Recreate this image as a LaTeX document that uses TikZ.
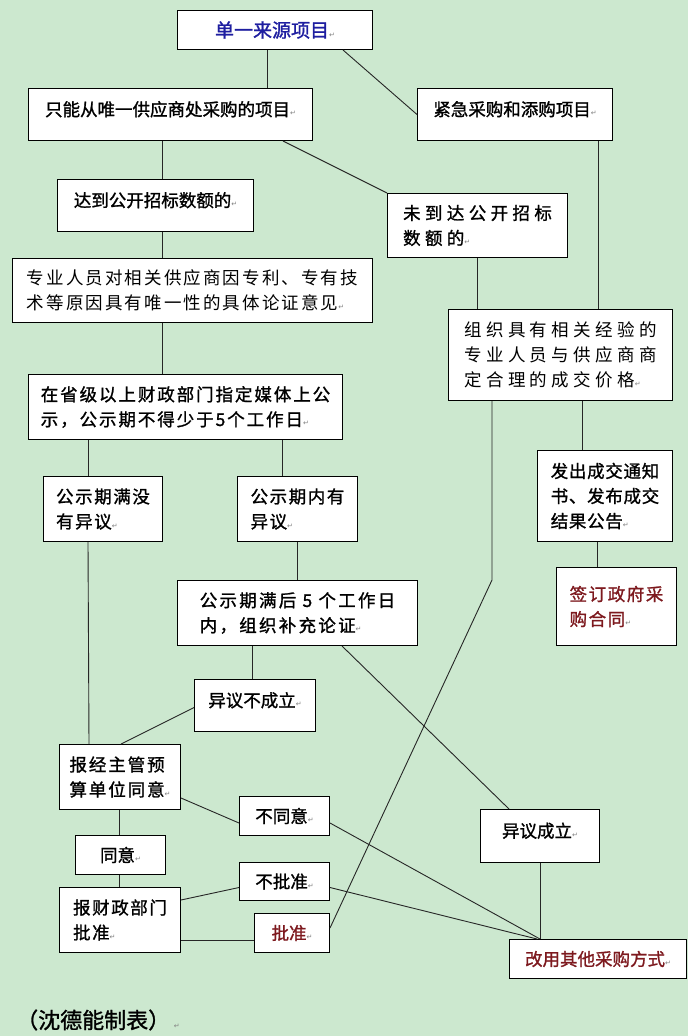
\documentclass[tikz,border=0pt]{standalone}
\usepackage{fontspec}
\setmainfont{Noto Sans CJK SC}
\newfontfamily\hb[FakeBold=1.2]{Noto Sans CJK SC}
\newfontfamily\symf{DejaVu Sans}
\usetikzlibrary{calc}
\definecolor{bgc}{RGB}{204,232,207}
\definecolor{tblue}{RGB}{30,30,160}
\definecolor{tred}{RGB}{125,25,30}
\newcommand\rmk{{\symf\fontsize{7}{7}\selectfont\color{gray}↵}}
\tikzset{
 box/.style={draw=black, line width=1pt, fill=white, inner sep=0pt, align=left, anchor=north west, font=\hb\fontsize{17.5}{25}\selectfont},
 sp/.style={font=\hb\fontsize{17.5}{25}\selectfont\addfontfeature{LetterSpace=#1}},
 spr/.style={font=\rmfamily\fontsize{17.5}{25}\selectfont\addfontfeature{LetterSpace=#1}},
 conn/.style={draw=black!85, line width=0.9pt},
}
\begin{document}
\begin{tikzpicture}[x=1pt,y=-1pt]
\fill[bgc] (0,0) rectangle (688,1036);
\useasboundingbox (0,0) rectangle (688,1036);

% boxes
\node[box, minimum width=195, minimum height=39, font=\hb\fontsize{19}{25}\selectfont, text=tblue, align=center] (A) at (177,10) {单一来源项目\rmk};
\node[box, minimum width=284, minimum height=52] (B) at (28,88) {只能从唯一供应商处采购的项目\rmk\\[-13pt]};
\node[box, minimum width=195, minimum height=52] (C) at (417,88) {紧急采购和添购项目\rmk\\[-13pt]};
\node[box, minimum width=196, minimum height=52] (D) at (57,179) {达到公开招标数额的\rmk\\[-13pt]};
\node[box, sp=25, minimum width=180, minimum height=64] (E) at (387,193) {未到达公开招标\\数额的\rmk};
\node[box, spr=12, minimum width=360, minimum height=64] (F) at (12,258) {专业人员对相关供应商因专利、专有技\\术等原因具有唯一性的具体论证意见\rmk};
\node[box, spr=25, minimum width=224, minimum height=91] (G) at (448,309) {组织具有相关经验的\\专业人员与供应商商\\定合理的成交价格\rmk};
\node[box, sp=11, minimum width=314, minimum height=65] (H) at (28,374) {在省级以上财政部门指定媒体上公\\示，公示期不得少于5个工作日\rmk};
\node[box, sp=4, minimum width=135, minimum height=91] (I) at (537,450) {发出成交通知\\书、发布成交\\结果公告\rmk};
\node[box, sp=9, minimum width=120, minimum height=78, text=tred] (J) at (556,567) {签订政府采\\购合同\rmk};
\node[box, sp=9, minimum width=119, minimum height=65] (K) at (43,476) {公示期满没\\有异议\rmk};
\node[box, sp=9, minimum width=120, minimum height=65] (L) at (237,476) {公示期内有\\异议\rmk};
\node[box, sp=13, minimum width=240, minimum height=65] (M) at (177,580) {公示期满后 5 个工作日\\内，组织补充论证\rmk};
\node[box, minimum width=121, minimum height=52] (N) at (194,679) {异议不成立\rmk\\[-13pt]};
\node[box, sp=11, minimum width=121, minimum height=65] (O) at (59,744) {报经主管预\\算单位同意\rmk};
\node[box, minimum width=90, minimum height=39] (P) at (239,796) {不同意\rmk};
\node[box, minimum width=119, minimum height=53] (Q) at (480,809) {异议成立\rmk\\[-13pt]};
\node[box, minimum width=90, minimum height=39] (R) at (75,835) {同意\rmk};
\node[box, sp=9, minimum width=121, minimum height=65] (S) at (59,887) {报财政部门\\批准\rmk};
\node[box, minimum width=90, minimum height=38] (T) at (239,862) {不批准\rmk};
\node[box, minimum width=75, minimum height=39, text=tred] (U) at (254,913) {批准\rmk};
\node[box, minimum width=177, minimum height=39, text=tred] (V) at (509,939) {改用其他采购方式\rmk};
\node[anchor=west, inner sep=0pt, font=\hb\fontsize{22}{22}\selectfont] (foot) at (16,1020) {（沈德能制表）\,\rmk};

\coordinate (gbend) at (492,580);

% connectors
\draw[conn] ($(A.south west)+(90,0)$) -- ($(B.north west)+(239,0)$);
\draw[conn] ($(A.south west)+(166,0)$) -- (C.west);
\draw[conn] ($(B.south west)+(255,0)$) -- (E.north west);
\draw[conn] ($(B.south west)+(134,0)$) -- ($(D.north west)+(105,0)$);
\draw[conn] ($(C.south west)+(181,0)$) -- ($(G.north west)+(150,0)$);
\draw[conn] ($(D.south west)+(105,0)$) -- ($(F.north west)+(150,0)$);
\draw[conn] ($(E.south west)+(90,0)$) -- ($(G.north west)+(29,0)$);
\draw[conn] ($(F.south west)+(150,0)$) -- ($(H.north west)+(134,0)$);
\draw[conn] ($(G.south west)+(44,0)$) -- (gbend) -- ($(U.east)+(0,-5)$);
\draw[conn] ($(G.south west)+(134,0)$) -- ($(I.north west)+(45,0)$);
\draw[conn] ($(I.south west)+(60,0)$) -- ($(J.north west)+(41,0)$);
\draw[conn] ($(H.south west)+(60,0)$) -- ($(K.north west)+(45,0)$);
\draw[conn] ($(H.south west)+(254,0)$) -- ($(L.north west)+(45,0)$);
\draw[conn] ($(L.south west)+(60,0)$) -- ($(M.north west)+(120,0)$);
\draw[conn] ($(K.south west)+(45,0)$) -- ($(O.north west)+(30,0)$);
\draw[conn] ($(M.south west)+(75,0)$) -- ($(N.north west)+(58,0)$);
\draw[conn] ($(M.south west)+(165,0)$) -- ($(Q.north west)+(29,0)$);
\draw[conn] ($(N.west)+(0,2)$) -- ($(O.north west)+(62,0)$);
\draw[conn] ($(O.south east)+(0,-12)$) -- ($(P.west)+(0,7)$);
\draw[conn] ($(P.east)+(0,7)$) -- ($(V.north west)+(31,0)$);
\draw[conn] ($(O.south west)+(60,0)$) -- ($(R.north west)+(44,0)$);
\draw[conn] ($(R.south west)+(44,0)$) -- ($(S.north west)+(60,0)$);
\draw[conn] ($(S.north east)+(0,13)$) -- ($(T.west)+(0,6)$);
\draw[conn] ($(S.south east)+(0,-13)$) -- ($(U.south west)+(0,-13)$);
\draw[conn] ($(T.east)+(0,6)$) -- ($(V.north west)+(28,0)$);
\draw[conn] ($(Q.south west)+(60,0)$) -- ($(V.north west)+(31,0)$);
\end{tikzpicture}
\end{document}
